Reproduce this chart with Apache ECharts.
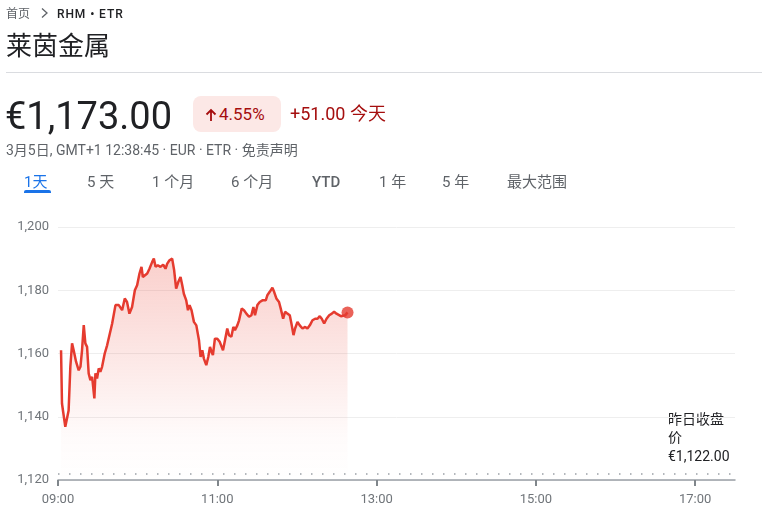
<!DOCTYPE html>
<html>
<head>
<meta charset="utf-8">
<script src="https://cdn.jsdelivr.net/npm/echarts@6/dist/echarts.min.js"></script>
<style>
  html, body { margin: 0; padding: 0; background: #fff; }
  body { width: 762px; height: 516px; position: relative; overflow: hidden; font-family: Roboto, "Noto Sans CJK SC", sans-serif; }
  #chart { position: absolute; left: 0; top: 0; width: 762px; height: 516px; }
  .t { position: absolute; white-space: nowrap; pointer-events: none; }
</style>
</head>
<body>
<div id="chart"></div>
<div class="t" style="left:6px;top:6px;font-size:12px;color:#5f6368;line-height:16px;">首页</div>
<div class="t" style="left:40px;top:6px;font-size:12px;color:#5f6368;line-height:16px;">
  <svg width="9" height="12" viewBox="0 0 9 12" style="vertical-align:-1px"><path d="M2 1.5 L7 6 L2 10.5" fill="none" stroke="#5f6368" stroke-width="1.3"/></svg>
</div>
<div class="t" style="left:57px;top:6px;font-size:12px;color:#202124;font-weight:500;letter-spacing:0.9px;line-height:16px;">RHM • ETR</div>
<div class="t" style="left:6px;top:30px;font-size:26px;color:#202124;line-height:32px;">莱茵金属</div>
<div class="t" style="left:6px;top:72px;width:756px;height:1px;background:#dadce0;"></div>
<div class="t" style="left:5px;top:94px;font-size:38px;color:#202124;line-height:44px;">€1,173.00</div>
<div class="t" style="left:193px;top:96px;width:88px;height:36px;background:#fce8e6;border-radius:8px;"></div>
<div class="t" style="left:205px;top:107px;">
  <svg width="12" height="14" viewBox="0 0 12 14"><path d="M6 13 L6 2 M1.5 6.5 L6 2 L10.5 6.5" fill="none" stroke="#a50e0e" stroke-width="1.8"/></svg>
</div>
<div class="t" style="left:219px;top:103px;font-size:17px;color:#a50e0e;line-height:22px;">4.55%</div>
<div class="t" style="left:290px;top:103px;font-size:18px;color:#a50e0e;line-height:22px;">+51.00 今天</div>
<div class="t" style="left:6px;top:142px;font-size:14px;color:#5f6368;line-height:16px;">3月5日, GMT+1 12:38:45 · EUR · ETR · 免责声明</div>
<div class="t" style="left:24px;top:172px;font-size:15px;color:#1a73e8;line-height:20px;">1天</div>
<div class="t" style="left:24px;top:190px;width:27px;height:3px;background:#1a73e8;border-radius:2px 2px 0 0;"></div>
<div class="t" style="left:87px;top:172px;font-size:15px;color:#5f6368;line-height:20px;">5 天</div>
<div class="t" style="left:152px;top:172px;font-size:15px;color:#5f6368;line-height:20px;">1 个月</div>
<div class="t" style="left:231px;top:172px;font-size:15px;color:#5f6368;line-height:20px;">6 个月</div>
<div class="t" style="left:312px;top:172px;font-size:15px;color:#5f6368;line-height:20px;font-weight:500;">YTD</div>
<div class="t" style="left:379px;top:172px;font-size:15px;color:#5f6368;line-height:20px;">1 年</div>
<div class="t" style="left:442px;top:172px;font-size:15px;color:#5f6368;line-height:20px;">5 年</div>
<div class="t" style="left:507px;top:172px;font-size:15px;color:#5f6368;line-height:20px;">最大范围</div>
<script>
// minutes after 09:00
var minutesAfterOpen = [
  2.3, 3, 4.3, 5.5, 6.8, 8, 9.3, 10.6, 11.8, 13.6,
  15.6, 16.9, 18.1, 19.4, 20.6, 21.9, 23.1, 24.4, 25.7, 27.4,
  28.2, 29.4, 30.7, 31.9, 33.2, 35.2, 37, 38.2, 40.8, 43.3,
  45.8, 48.3, 50.3, 52, 53.8, 55.8, 57.9, 59.6, 61.4, 62.9,
  63.9, 65.4, 67.2, 68.9, 70.9, 72.2, 73.5, 75.2, 77.2, 79.2,
  81, 82.3, 84, 86, 87.5, 89, 90.6, 92.3, 93.6, 94.8,
  96.6, 97.9, 99.1, 100.6, 102.4, 104.2, 106.2, 107.4, 108.7, 109.9,
  111.7, 113.2, 114.5, 115.7, 116.7, 118.2, 120, 121.8, 123.3, 124.3,
  125.8, 127.5, 128.8, 130.6, 132.1, 133.3, 135.1, 136.4, 138.4, 140.1,
  141.9, 143.9, 145.7, 147.2, 148.4, 150.2, 152, 154, 155.2, 156.5,
  157.7, 159.5, 161.5, 162.8, 164.5, 166.5, 167.8, 169.6, 171.1, 172.8,
  174.6, 176.1, 177.4, 178.6, 180.4, 182.1, 184.2, 186.2, 187.9, 189.7,
  191.7, 193.7, 195.5, 197.2, 198.7, 200.5, 202.3, 204.3, 206.3, 208,
  209.8, 211.3, 213.1, 214.3, 216.4, 218.1
];
var prices = [
  1161.0, 1144.2, 1143.7, 1136.8, 1136.3, 1142, 1155.8, 1163.2, 1161, 1157.4,
  1154.7, 1155.8, 1161, 1169, 1163.2, 1162.1, 1153.7, 1151.6, 1152.6, 1145.8,
  1153.7, 1152.1, 1155.3, 1154.2, 1155.8, 1160, 1162.6, 1163.2, 1169.5, 1175.3,
  1175.3, 1173.7, 1177.4, 1176.3, 1172.6, 1174.7, 1180, 1181.6, 1185.3, 1187.4,
  1184.2, 1183.7, 1185.3, 1186.8, 1188.9, 1190, 1187.4, 1187.9, 1187.4, 1188.1,
  1186.8, 1188.4, 1189.5, 1190, 1186.3, 1180.5, 1182.6, 1184.2, 1181.6, 1178.9,
  1176.8, 1173.7, 1175.3, 1173.7, 1170, 1168.9, 1164.2, 1158.9, 1161, 1158.4,
  1156.3, 1158.9, 1162.1, 1160.5, 1159.5, 1164.7, 1164.7, 1163.7, 1162.1, 1161,
  1164.2, 1167.9, 1165.8, 1165.3, 1168.4, 1167.4, 1168.9, 1170.5, 1174.2, 1173.7,
  1172.6, 1171.6, 1172.1, 1174.7, 1172.1, 1175.3, 1176.3, 1176.8, 1177.4, 1176.8,
  1178.4, 1179.5, 1180.8, 1179.5, 1177.4, 1176.3, 1174.2, 1171, 1173.2, 1172.6,
  1172.1, 1168.9, 1165.8, 1167.9, 1170, 1168.9, 1167.9, 1168.4, 1167.9, 1168.9,
  1170.5, 1171, 1171, 1171.8, 1171, 1169.5, 1171, 1172.1, 1172.6, 1173.2,
  1172.6, 1172.4, 1171.8, 1172.4, 1172.1, 1173
];
var xTickMinutes = [0, 120, 240, 360, 480];
var yTicks = [1120, 1140, 1160, 1180, 1200];
var prevClose = 1122;
var sessionEndMinutes = 510;

function fmtTime(m) {
  var h = 9 + Math.floor(m / 60), mm = m % 60;
  return (h < 10 ? '0' : '') + h + ':' + (mm < 10 ? '0' : '') + mm;
}
var lineData = minutesAfterOpen.map(function (t, i) { return [t, prices[i]]; });
var lastPoint = lineData[lineData.length - 1];

var chart = echarts.init(document.getElementById('chart'), null, { renderer: 'canvas' });
chart.setOption({
  animation: false,
  grid: { left: 58, right: 27, top: 227, bottom: 36 },
  xAxis: {
    type: 'value',
    min: 0,
    max: sessionEndMinutes,
    interval: 120,
    axisLine: { show: true, lineStyle: { color: '#9aa0a6', width: 1.5 } },
    axisTick: { show: true, customValues: xTickMinutes, length: 6, lineStyle: { color: '#80868b', width: 2 } },
    axisLabel: { customValues: xTickMinutes, formatter: function (v) { return fmtTime(v); }, color: '#70757a', fontSize: 13, margin: 13, fontFamily: 'Roboto' },
    splitLine: { show: false }
  },
  yAxis: {
    type: 'value',
    min: yTicks[0],
    max: yTicks[yTicks.length - 1],
    interval: 20,
    axisLine: { show: false },
    axisTick: { show: false },
    axisLabel: { color: '#70757a', fontSize: 13, margin: 9, fontFamily: 'Roboto',
      formatter: function (v) { return v.toLocaleString('en-US'); } },
    splitLine: { show: true, lineStyle: { color: '#eeeeee', width: 1 } }
  },
  graphic: [{
    type: 'text',
    left: 668,
    top: 411,
    style: {
      text: '昨日收盘\n价\n€' + prevClose.toLocaleString('en-US', { minimumFractionDigits: 2 }),
      fill: '#202124',
      font: '14px Roboto, "Noto Sans CJK SC"',
      lineHeight: 18.5
    }
  }],
  series: [{
    type: 'line',
    data: lineData,
    showSymbol: false,
    symbol: 'none',
    lineStyle: { color: '#e53b2f', width: 2.5 },
    areaStyle: {
      origin: 'start',
      color: new echarts.graphic.LinearGradient(0, 0, 0, 1, [
        { offset: 0, color: 'rgba(234,67,53,0.36)' },
        { offset: 0.8, color: 'rgba(234,67,53,0.03)' },
        { offset: 1, color: 'rgba(234,67,53,0)' }
      ])
    },
    markLine: {
      silent: true,
      symbol: 'none',
      label: { show: false },
      lineStyle: { color: '#9aa0a6', type: [1.5, 9.5], width: 1.5 },
      data: [{ yAxis: prevClose }]
    }
  }, {
    type: 'scatter',
    data: [lastPoint],
    symbolSize: 12,
    itemStyle: { color: '#e53b2f' },
    z: 5
  }]
});
</script>
</body>
</html>
